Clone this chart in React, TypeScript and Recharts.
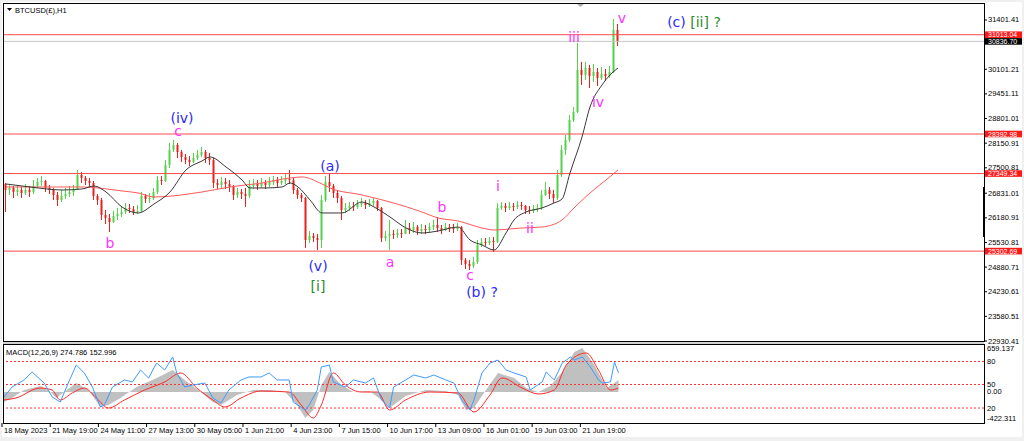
import React from "react";
import {
  Area,
  Bar,
  ComposedChart,
  Line,
  ReferenceDot,
  ReferenceLine,
  XAxis,
  YAxis,
} from "recharts";

// hourly BTCUSD bars, one slot per ~5.5h
const firstOpen = 27074;
const closes = [
  26916, 26969, 26863, 26916, 26837, 26916, 26863, 27021, 27127, 27153,
  26969, 26916, 26784, 26652, 26758, 26810, 26863, 26916, 27312, 27233,
  27153, 27101, 26758, 26652, 26256, 26177, 26071, 26230, 26282, 26335,
  26441, 26414, 26335, 26362, 26758, 26678, 26705, 26863, 27180, 27153,
  27576, 27972, 28103, 27919, 27787, 27708, 27655, 27760, 27840, 27919,
  27760, 27708, 27101, 27048, 27127, 27074, 26995, 26784, 26863, 26810,
  26758, 27021, 27074, 27021, 27101, 27048, 27127, 27180, 27101, 27153,
  27206, 27180, 26916, 26784, 26705, 25596, 25702, 25649, 25596, 26652,
  27127, 27021, 26837, 26705, 26388, 26441, 26494, 26467, 26546, 26573,
  26520, 26573, 26626, 26441, 25649, 25702, 25755, 25728, 25781, 25755,
  25913, 25860, 25939, 25834, 25887, 25860, 25939, 25992, 25913, 25860,
  25939, 25913, 25887, 25939, 25069, 24963, 24910, 25016, 25464, 25544,
  25517, 25570, 25544, 26441, 26494, 26441, 26494, 26467, 26520, 26494,
  26388, 26362, 26414, 26441, 26784, 26916, 26810, 26705, 27312, 27972,
  28235, 28763, 28974, 30083, 29951, 30135, 29924, 30030, 29872, 29977,
  29924, 30030, 31138, 30848,
];
const highs = [
  27101, 27048, 27021, 27048, 26995, 27074, 27021, 27180, 27233, 27285,
  27180, 27048, 26969, 26863, 26916, 26969, 27021, 27048, 27444, 27391,
  27285, 27233, 27153, 26810, 26705, 26388, 26282, 26362, 26441, 26494,
  26573, 26546, 26494, 26520, 26863, 26810, 26837, 26969, 27285, 27285,
  27708, 28156, 28235, 28156, 27972, 27866, 27813, 27892, 27972, 28051,
  27972, 27892, 27760, 27206, 27259, 27233, 27180, 27048, 26969, 26942,
  26969, 27180, 27206, 27180, 27233, 27180, 27259, 27285, 27259, 27285,
  27338, 27444, 27233, 26969, 26837, 26731, 25834, 25781, 25755, 26784,
  27285, 27365, 27074, 26916, 26758, 26573, 26599, 26599, 26652, 26705,
  26652, 26678, 26705, 26652, 26467, 25834, 26124, 25860, 25887, 25887,
  26124, 26045, 26071, 25992, 26019, 25992, 26045, 26124, 26203, 25992,
  26045, 26019, 26019, 26045, 25966, 25121, 25069, 25148, 25596, 25649,
  25649, 25676, 25676, 26573, 26599, 26573, 26599, 26573, 26626, 26599,
  26520, 26494, 26520, 26546, 26916, 27127, 26995, 26916, 27444, 28103,
  28367, 28895, 29106, 30795, 30294, 30294, 30215, 30241, 30135, 30162,
  30109, 30188, 31428, 31297,
];
const lows = [
  26335, 26784, 26705, 26758, 26705, 26784, 26731, 26810, 26969, 27021,
  26863, 26810, 26652, 26494, 26599, 26678, 26731, 26758, 26916, 27101,
  27048, 26995, 26652, 26520, 26124, 26019, 25807, 26045, 26124, 26203,
  26282, 26309, 26256, 26282, 26335, 26573, 26573, 26652, 26810, 27048,
  27127, 27497, 27919, 27760, 27655, 27602, 27549, 27628, 27708, 27787,
  27628, 27576, 26969, 26942, 26969, 26942, 26863, 26652, 26705, 26678,
  26467, 26705, 26942, 26916, 26969, 26942, 26995, 27048, 26995, 27048,
  27074, 27074, 26810, 26678, 26599, 25385, 25517, 25544, 25332, 25385,
  26599, 26863, 26705, 26573, 26124, 26309, 26362, 26362, 26414, 26467,
  26414, 26467, 26494, 26362, 25544, 25570, 25332, 25623, 25649, 25649,
  25755, 25755, 25781, 25728, 25755, 25755, 25807, 25860, 25807, 25755,
  25834, 25807, 25781, 25834, 24937, 24831, 24805, 24857, 24963, 25412,
  25438, 25464, 25280, 25517, 26388, 26335, 26388, 26362, 26414, 26388,
  26282, 26282, 26309, 26335, 26388, 26758, 26678, 26573, 26652, 27259,
  27840, 28183, 28710, 28948, 29687, 29819, 29608, 29766, 29660, 29819,
  29792, 29872, 30003, 30716,
];

// moving averages, [slot, price]
const maFast: [number, number][] = [
  [0, 27074], [6, 26995], [14, 26916], [19, 26942], [22, 27021], [25, 26863],
  [29, 26467], [33, 26309], [37, 26546], [41, 26863], [45, 27444], [49, 27681],
  [51, 27787], [55, 27523], [59, 27180], [61, 26969], [65, 26969], [69, 26995],
  [71, 27101], [73, 26995], [76, 26652], [79, 26309], [84, 26309], [89, 26599],
  [92, 26467], [96, 26203], [100, 25913], [104, 25781], [108, 25834], [113, 25939],
  [116, 25596], [119, 25464], [122, 25332], [125, 25781], [127, 26124], [130, 26335],
  [134, 26441], [137, 26573], [139, 26678], [141, 27365], [144, 28315], [146, 29106],
  [149, 29687], [151, 29951], [153, 30135],
];
const maSlow: [number, number][] = [
  [0, 26995], [11, 26995], [19, 26995], [29, 26890], [33, 26837], [37, 26731],
  [49, 26863], [56, 26995], [64, 27101], [71, 27233], [74, 27259], [79, 27074],
  [81, 26969], [89, 26784], [96, 26599], [104, 26335], [108, 26177], [113, 26098],
  [119, 25913], [122, 25860], [129, 25913], [134, 25939], [139, 26124], [142, 26441],
  [146, 26837], [150, 27180], [153, 27444],
];

// MACD pane, [slot, value]
const macdHist: [number, number][] = [
  [0, -142], [2, -85], [5, 27], [9, 83], [11, 27], [13, -85], [15, -1], [18, 125],
  [21, 27], [24, -212], [26, -184], [29, -85], [33, 69], [38, 196], [42, 308],
  [45, 168], [49, -1], [52, -142], [54, -184], [58, -43], [62, 27], [66, 27],
  [70, -1], [73, -184], [75, -366], [77, -254], [79, 97], [81, 280], [84, 97],
  [87, -1], [91, 13], [94, -113], [96, -226], [100, -57], [105, 27], [110, 13],
  [113, -43], [115, -254], [117, -226], [120, 27], [123, 266], [127, 196],
  [130, 55], [133, -1], [136, 83], [139, 280], [142, 561], [144, 617], [147, 378],
  [150, 55], [152, 125], [153, 168],
];
const macdSignal: [number, number][] = [
  [0, -113], [3, -85], [9, 55], [12, 27], [14, -113], [17, -15], [20, 55],
  [23, -85], [26, -226], [30, -113], [35, 27], [40, 140], [44, 266], [48, 55],
  [52, -113], [55, -212], [59, -85], [64, 13], [71, -1], [74, -184], [77, -366],
  [79, -184], [82, 266], [85, 97], [89, -1], [93, -1], [96, -254], [100, -113],
  [106, -1], [113, -15], [117, -282], [121, -43], [124, 196], [129, 55],
  [133, -29], [137, 27], [140, 378], [145, 547], [148, 308], [151, 27], [153, 55],
];
const fastLine: [number, number][] = [
  [0, -71], [2, 69], [5, 168], [7, 280], [10, 125], [12, -71], [14, -142],
  [16, 125], [18, 378], [20, 266], [22, 69], [24, -212], [25, -184], [27, 69],
  [30, 168], [32, 140], [34, 308], [36, 196], [38, 406], [40, 308], [42, 491],
  [43, 266], [45, 69], [47, 97], [50, 125], [52, -85], [54, -156], [56, 27],
  [59, 168], [61, 210], [64, 210], [66, 266], [68, 168], [71, 168], [72, -142],
  [75, -254], [76, -184], [78, 27], [79, 350], [81, 378], [82, 140], [85, 69],
  [87, 168], [90, 125], [92, 196], [94, -113], [96, -226], [97, 69], [100, 168],
  [102, 238], [105, 196], [107, 238], [110, 168], [112, 125], [114, -113],
  [116, -254], [117, -113], [119, 266], [121, 406], [123, 448], [125, 308],
  [127, 266], [130, 210], [131, 27], [134, 140], [135, 280], [137, 168],
  [139, 406], [141, 491], [142, 448], [144, 491], [146, 350], [148, 168],
  [149, 125], [151, 140], [152, 420], [153, 266],
];
const macdLevels: [number, string][] = [[427, "80"], [104, "50"], [-226, "20"]];
const macdTicks: [number, string][] = [
  [659.137, "659.137"], [427, "80"], [104, "50"], [0, "0.00"], [-226, "20"], [-422.311, "-422.311"],
];

const priceTicks = [
  31401.41, 30101.21, 29451.11, 28801.01, 28150.91, 27500.81, 26831.01,
  26180.91, 25530.81, 24880.71, 24230.61, 23580.51, 22930.41,
];
const redLevels = [31013.04, 28392.98, 27349.34, 25302.69];
const lastPrice = 30836.7;

const timeTicks: [number, string][] = [
  [0, "18 May 2023"], [12, "21 May 19:00"], [24, "24 May 11:00"], [36, "27 May 13:00"],
  [48, "30 May 05:00"], [60, "1 Jun 21:00"], [72, "4 Jun 23:00"], [84, "7 Jun 15:00"],
  [96, "10 Jun 17:00"], [108, "13 Jun 09:00"], [120, "16 Jun 01:00"],
  [132, "19 Jun 03:00"], [144, "21 Jun 19:00"],
];

const BLUE = "#2a2aff";
const PINK = "#ff33ff";
const DKGREEN = "#2e8b2e";
const waveLabels: { i: number; p: number; parts: [string, string][] }[] = [
  { i: 44, p: 28816, parts: [["(iv)", BLUE]] },
  { i: 43, p: 28473, parts: [["c", PINK]] },
  { i: 26, p: 25517, parts: [["b", PINK]] },
  { i: 81, p: 27549, parts: [["(a)", BLUE]] },
  { i: 78, p: 24910, parts: [["(v)", BLUE]] },
  { i: 78, p: 24382, parts: [["[i]", DKGREEN]] },
  { i: 96, p: 25016, parts: [["a", PINK]] },
  { i: 109, p: 26467, parts: [["b", PINK]] },
  { i: 116, p: 24672, parts: [["c", PINK]] },
  { i: 119, p: 24224, parts: [["(b) ?", BLUE]] },
  { i: 123, p: 27021, parts: [["i", PINK]] },
  { i: 131, p: 25913, parts: [["ii", PINK]] },
  { i: 142, p: 30953, parts: [["iii", PINK]] },
  { i: 148, p: 29238, parts: [["iv", PINK]] },
  { i: 154, p: 31455, parts: [["v", PINK]] },
  { i: 172, p: 31349, parts: [["(c) ", BLUE], ["[ii] ?", DKGREEN]] },
];

const SLOTS = 245;
const rows: any[] = Array.from({ length: SLOTS }, (_, i) => {
  const r: any = { idx: i };
  if (i < closes.length) {
    r.open = i === 0 ? firstOpen : closes[i - 1];
    r.close = closes[i];
    r.high = highs[i];
    r.low = lows[i];
    r.range = [lows[i], highs[i]];
  }
  return r;
});
maFast.forEach(([i, v]) => (rows[i].maFast = v));
maSlow.forEach(([i, v]) => (rows[i].maSlow = v));
macdHist.forEach(([i, v]) => (rows[i].hist = v));
macdSignal.forEach(([i, v]) => (rows[i].signal = v));
fastLine.forEach(([i, v]) => (rows[i].fast = v));

const FONT = "'Liberation Sans', Arial, sans-serif";
const UP = "#55d24a";
const DOWN = "#e8201c";

function Candle(props: any) {
  const { x, y, height, payload } = props;
  if (!payload || payload.high == null) return null;
  const top = Math.min(y, y + height);
  const h = Math.abs(height);
  const k = h / (payload.high - payload.low || 1);
  const yo = top + (payload.high - payload.open) * k;
  const yc = top + (payload.high - payload.close) * k;
  const col = payload.close >= payload.open ? UP : DOWN;
  return (
    <g>
      <rect x={x + 1} y={top} width={1} height={Math.max(h, 1)} fill={col} />
      <rect x={x + 0.5} y={Math.min(yo, yc)} width={2} height={Math.max(Math.abs(yc - yo), 1)} fill={col} />
    </g>
  );
}

function PriceTick({ x, y, payload }: any) {
  return (
    <g>
      <line x1={x} x2={x + 3} y1={y} y2={y} stroke="#000" />
      <text x={x + 4} y={y} dominantBaseline="central" fontSize={7.5} fontFamily={FONT} fill="#000">
        {payload.value.toFixed(2)}
      </text>
    </g>
  );
}

function MacdTick({ x, y, payload }: any) {
  const hit = macdTicks.find((t) => t[0] === payload.value);
  const dy = payload.value === 659.137 ? 3 : payload.value === -422.311 ? -4 : 0;
  return (
    <text x={x + 3} y={y + dy} dominantBaseline="central" fontSize={7.5} fontFamily={FONT} fill="#000">
      {hit ? hit[1] : ""}
    </text>
  );
}

function TimeTick({ x, y, payload }: any) {
  const hit = timeTicks.find((t) => t[0] === payload.value);
  return (
    <g>
      <line x1={x - 2} x2={x - 2} y1={y + 1} y2={y + 5} stroke="#000" />
      <text x={x} y={y + 11} fontSize={7.5} fontFamily={FONT} fill="#000">
        {hit ? hit[1] : ""}
      </text>
    </g>
  );
}

const tag = (text: string, bg: string) => (props: any) => {
  const vb = props.viewBox || {};
  const x = (vb.x || 0) + (vb.width || 0);
  const y = vb.y || 0;
  return (
    <g>
      <rect x={x + 1} y={y - 3.3} width={37} height={6.6} fill={bg} />
      <text x={x + 4} y={y} dominantBaseline="central" fontSize={7} fontFamily={FONT} fill="#fff">
        {text}
      </text>
    </g>
  );
};

const waveShape = (parts: [string, string][]) => (p: any) => (
  <text
    x={p.cx}
    y={p.cy}
    textAnchor="middle"
    dominantBaseline="central"
    fontSize={14}
    fontFamily="'DejaVu Sans', sans-serif"
  >
    {parts.map(([t, c], k) => (
      <tspan key={k} fill={c}>
        {t}
      </tspan>
    ))}
  </text>
);

export default function App() {
  return (
    <div
      style={{
        position: "absolute",
        left: 0,
        top: 0,
        width: 1024,
        height: 441,
        background: "#f0f0f0",
        overflow: "hidden",
      }}
    >
      <div style={{ position: "absolute", left: 2, top: 2, width: 1020, height: 435, background: "#fff" }} />

      <div style={{ position: "absolute", left: 0, top: 0 }}>
        <ComposedChart
          width={1024}
          height={347}
          data={rows}
          margin={{ top: 4, right: 0, bottom: 6, left: 4 }}
          barCategoryGap={0}
          barGap={0}
        >
          <XAxis dataKey="idx" type="category" hide />
          <YAxis
            orientation="right"
            width={40}
            domain={[22930.41, 31823.6]}
            allowDataOverflow
            ticks={priceTicks}
            interval={0}
            tickSize={0}
            tickMargin={0}
            axisLine={false}
            tickLine={false}
            tick={<PriceTick />}
          />
          {redLevels.map((v) => (
            <ReferenceLine
              key={v}
              y={v}
              stroke="#ff4a4a"
              strokeWidth={1}
              label={tag(v.toFixed(2), "#ff1a1a")}
            />
          ))}
          <ReferenceLine y={lastPrice} stroke="#c8c8c8" strokeWidth={1} label={tag(lastPrice.toFixed(2), "#000")} />
          <Bar dataKey="range" barSize={4} shape={<Candle />} isAnimationActive={false} />
          <Line
            dataKey="maSlow"
            type="monotone"
            stroke="#ff5a5a"
            strokeWidth={1}
            dot={false}
            connectNulls
            isAnimationActive={false}
          />
          <Line
            dataKey="maFast"
            type="monotone"
            stroke="#3a3a3a"
            strokeWidth={1}
            dot={false}
            connectNulls
            isAnimationActive={false}
          />
          {waveLabels.map((w, k) => (
            <ReferenceDot key={k} x={w.i} y={w.p} r={0} shape={waveShape(w.parts)} />
          ))}
        </ComposedChart>
      </div>

      <div style={{ position: "absolute", left: 3, top: 342, width: 981, height: 2, background: "#d0d0d0" }} />

      <div style={{ position: "absolute", left: 0, top: 341 }}>
        <ComposedChart
          width={1024}
          height={100}
          data={rows}
          margin={{ top: 4, right: 0, bottom: 0, left: 4 }}
        >
          <XAxis
            dataKey="idx"
            type="category"
            height={19}
            ticks={timeTicks.map((t) => t[0])}
            interval={0}
            tickSize={0}
            tickMargin={0}
            axisLine={false}
            tickLine={false}
            tick={<TimeTick />}
          />
          <YAxis
            orientation="right"
            width={40}
            domain={[-422.311, 659.137]}
            allowDataOverflow
            ticks={macdTicks.map((t) => t[0])}
            interval={0}
            tickSize={0}
            tickMargin={0}
            axisLine={false}
            tickLine={false}
            tick={<MacdTick />}
          />
          <Area
            dataKey="hist"
            type="linear"
            baseValue={0}
            fill="#c0c0c0"
            fillOpacity={1}
            stroke="none"
            connectNulls
            isAnimationActive={false}
          />
          {macdLevels.map(([v]) => (
            <ReferenceLine key={v} y={v} stroke="#ff3030" strokeDasharray="2 2" />
          ))}
          <Line
            dataKey="signal"
            type="monotone"
            stroke="#ff2a2a"
            strokeWidth={1}
            dot={false}
            connectNulls
            isAnimationActive={false}
          />
          <Line
            dataKey="fast"
            type="linear"
            stroke="#3f9bff"
            strokeWidth={1}
            dot={false}
            connectNulls
            isAnimationActive={false}
          />
        </ComposedChart>
      </div>

      {/* pane frames */}
      <div
        style={{
          position: "absolute",
          left: 3,
          top: 3,
          width: 982,
          height: 339,
          border: "1px solid #000",
          boxSizing: "border-box",
          pointerEvents: "none",
        }}
      />
      <div
        style={{
          position: "absolute",
          left: 3,
          top: 344,
          width: 982,
          height: 80,
          border: "1px solid #000",
          boxSizing: "border-box",
          pointerEvents: "none",
        }}
      />
      <div style={{ position: "absolute", left: 983, top: 187, width: 2, height: 50, background: "#000" }} />

      <svg style={{ position: "absolute", left: 0, top: 0 }} width={1024} height={441} pointerEvents="none">
        <polygon points="7,8 12,8 9.5,11" fill="#000" />
        <text x={15} y={10} dominantBaseline="central" fontSize={7.5} fontFamily={FONT} fill="#000">
          BTCUSD(£),H1
        </text>
        <polygon points="577,4 584,4 580.5,7" fill="#b0b0b0" />
        <text x={6} y={352} dominantBaseline="central" fontSize={7.5} fontFamily={FONT} fill="#000">
          MACD(12,26,9) 274.786 152.996
        </text>
      </svg>
    </div>
  );
}
